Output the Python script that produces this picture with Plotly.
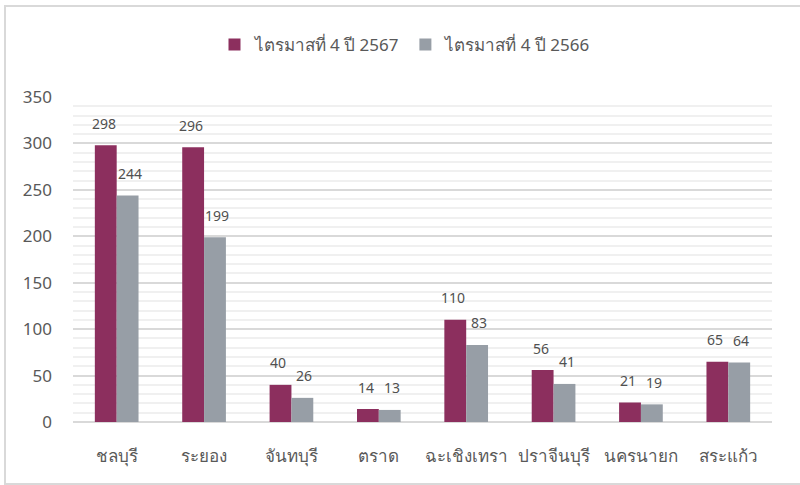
import plotly.graph_objects as go

categories = ["ชลบุรี", "ระยอง", "จันทบุรี", "ตราด", "ฉะเชิงเทรา", "ปราจีนบุรี", "นครนายก", "สระแก้ว"]
series_2567 = [298, 296, 40, 14, 110, 56, 21, 65]
series_2566 = [244, 199, 26, 13, 83, 41, 19, 64]
name_2567 = "ไตรมาสที่ 4 ปี 2567"
name_2566 = "ไตรมาสที่ 4 ปี 2566"
y_ticks = [0, 50, 100, 150, 200, 250, 300, 350]

C1 = "#8C2F5E"
C2 = "#979EA6"
FONT = "Noto Sans, DejaVu Sans, sans-serif"

fig = go.Figure()
fig.add_trace(go.Bar(x=categories, y=series_2567, name=name_2567, marker_color=C1,
                     marker_line_width=0))
fig.add_trace(go.Bar(x=categories, y=series_2566, name=name_2566, marker_color=C2,
                     marker_line_width=0))

annotations = []
for cat, v in zip(categories, series_2567):
    annotations.append(dict(x=cat, y=v, xref="x", yref="y", text=str(v), showarrow=False,
                            xshift=-13, yshift=22, font=dict(size=14, color="#505050", family=FONT)))
for cat, v in zip(categories, series_2566):
    annotations.append(dict(x=cat, y=v, xref="x", yref="y", text=str(v), showarrow=False,
                            xshift=13, yshift=22, font=dict(size=14, color="#505050", family=FONT)))

W, H = 800, 485
L, R, T, B = 73, 28, 97, 63
pw, ph = W - L - R, H - T - B

fig.update_layout(
    width=W, height=H,
    margin=dict(l=L, r=R, t=T, b=B, autoexpand=False),
    paper_bgcolor="white", plot_bgcolor="white",
    barmode="group", bargap=0.5, bargroupgap=0,
    font=dict(family=FONT, color="#595959", size=16),
    showlegend=True,
    legend=dict(orientation="h", x=0.5 - 17 / pw, xanchor="center", y=1 + 52 / ph, yanchor="middle",
                font=dict(size=17, color="#595959"), itemwidth=30, traceorder="normal"),
    annotations=annotations,
    shapes=[dict(type="rect", xref="paper", yref="paper",
                 x0=(5 - L) / pw, x1=(803 - L) / pw, y0=(T + ph - 484) / ph, y1=1 + (T - 6) / ph,
                 line=dict(color="#D9D9D9", width=2), fillcolor="rgba(0,0,0,0)", layer="below")],
    xaxis=dict(showgrid=False, showline=False, ticks="", tickfont=dict(size=17, color="#595959"),
               ticklabelstandoff=22),
    yaxis=dict(range=[0, 350], tickvals=y_ticks, showgrid=True, gridcolor="#D9D9D9", gridwidth=1.5,
               zeroline=True, zerolinecolor="#D9D9D9", zerolinewidth=1.5, showline=False,
               tickfont=dict(size=17, color="#595959"), ticklabelstandoff=20,
               minor=dict(dtick=10, showgrid=True, gridcolor="#F0F0F0", gridwidth=1.5)),
)

fig.write_html("out.html", config={"displayModeBar": False},
               post_script="document.body.style.margin='0';document.body.style.padding='0';")
